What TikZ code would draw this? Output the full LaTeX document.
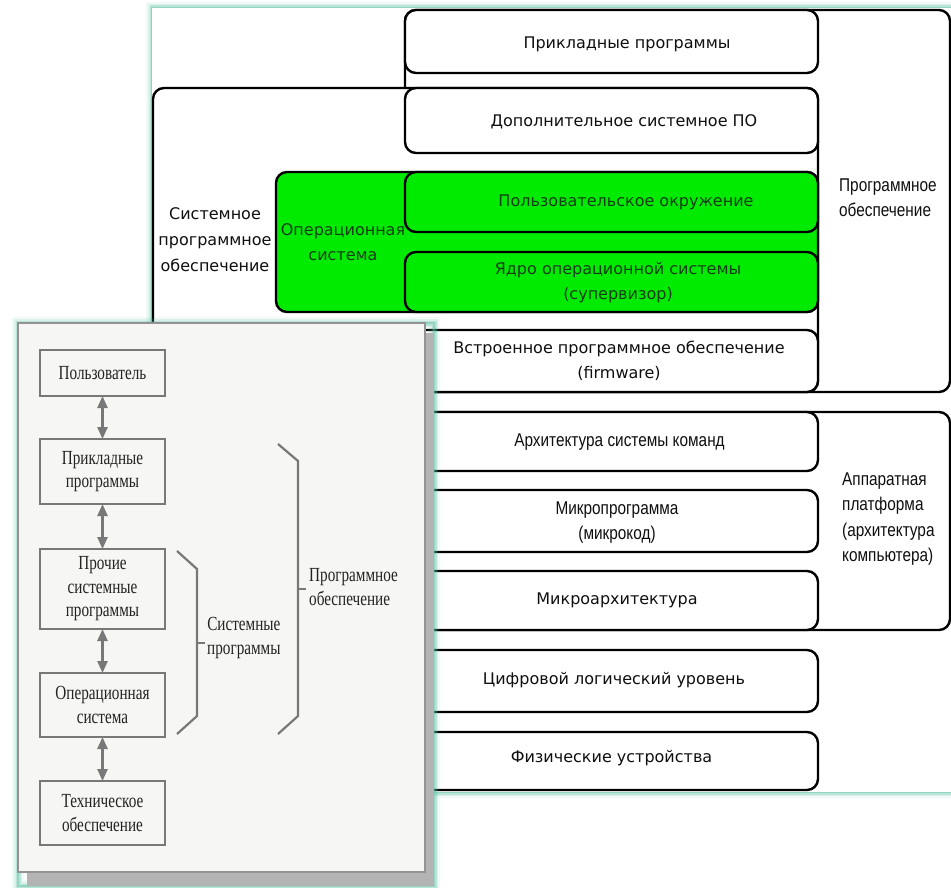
\documentclass[tikz,border=0pt]{standalone}
\usepackage{fontspec}
\setmainfont{DejaVu Sans}
\newfontfamily\condf[FakeStretch=0.83]{Liberation Sans}
\newfontfamily\serf[FakeStretch=0.76]{Liberation Serif}
\usetikzlibrary{arrows.meta}
\definecolor{osgreen}{RGB}{0,235,0}
\definecolor{txt}{RGB}{15,15,15}
\definecolor{gtxt}{RGB}{20,60,20}
\definecolor{glowc}{RGB}{90,190,160}
\definecolor{insetbg}{RGB}{246,247,244}
\definecolor{igray}{RGB}{120,120,120}
\definecolor{itxt}{RGB}{35,35,35}
\definecolor{shad}{RGB}{180,180,180}
\tikzset{
  lay/.style={draw=black, line width=2.4pt, rounded corners=11pt, fill=white,
    inner sep=0pt, outer sep=0pt, minimum width=413pt},
  grn/.style={lay, fill=osgreen},
  lbl/.style={font=\fontsize{16}{25}\selectfont, text=txt, align=center, inner sep=0pt},
  clbl/.style={font=\condf\fontsize{18.5}{25.5}\selectfont, text=txt, align=center, inner sep=0pt},
  ibox/.style={draw=igray, line width=2.2pt, fill=insetbg, minimum width=125pt,
    inner sep=0pt, outer sep=0pt, font=\serf\fontsize{20}{23.5}\selectfont,
    text=itxt, align=center},
  itext/.style={font=\serf\fontsize{20}{23.5}\selectfont, text=itxt, inner sep=0pt},
  iarrow/.style={draw=igray, line width=2.5pt,
    {Triangle[width=10pt,length=12pt]}-{Triangle[width=10pt,length=12pt]}},
  brk/.style={draw=igray, line width=2.2pt},
}
\begin{document}
\begin{tikzpicture}[x=1pt,y=-1pt]
\useasboundingbox (0,0) rectangle (951,888);
% main panel with glow
\foreach \w/\o in {12/0.08, 8/0.15, 5/0.25, 2.5/0.4}
  \draw[glowc, line width=\w pt, opacity=\o] (152,8) rectangle (990,792);
\fill[white] (152,8) rectangle (990,792);
% outer boxes
\node[lay, minimum width=545pt, minimum height=382pt] (po) at (677.5,201) {};
\node[lay, minimum width=665pt, minimum height=304pt] (sys) at (485.5,240) {};
\node[lay, minimum height=63pt] (app) at (611.5,41.5) {};
\node[lay, minimum height=65pt] (add) at (611.5,120.5) {};
\node[grn, minimum width=542pt, minimum height=140pt] (os) at (547,242) {};
\node[grn, minimum height=60pt] (env) at (611.5,202) {};
\node[grn, minimum height=60pt] (kern) at (611.5,282) {};
\node[lay, minimum height=62pt] (fw) at (611.5,361) {};
\node[lay, minimum width=545pt, minimum height=218pt] (hw) at (677.5,521) {};
\node[lay, minimum height=59pt] (isa) at (611.5,441.5) {};
\node[lay, minimum height=62pt] (mp) at (611.5,521) {};
\node[lay, minimum height=59pt] (ma) at (611.5,600.5) {};
\node[lay, minimum height=62pt] (dl) at (611.5,681) {};
\node[lay, minimum height=58pt] (ph) at (611.5,761) {};
% texts
\node[lbl] (tapp) at (627,44) {Прикладные программы};
\node[lbl] (tadd) at (624,122) {Дополнительное системное ПО};
\node[lbl, text=gtxt] (tenv) at (626,202) {Пользовательское окружение};
\node[lbl, text=gtxt] (tkern) at (618,282.5) {Ядро операционной системы\\(супервизор)};
\node[lbl] (tfw) at (619,360.5) {Встроенное программное обеспечение\\(firmware)};
\node[lbl, font=\fontsize{16}{26}\selectfont] (tsys) at (215,239.5) {Системное\\программное\\обеспечение};
\node[lbl, text=gtxt] (tos) at (343,242.5) {Операционная\\система};
\node[clbl, anchor=west, align=left] (tpo) at (839,197.5) {Программное\\обеспечение};
\node[clbl] (tisa) at (619.5,442) {Архитектура системы команд};
\node[clbl] (tmp) at (617,522.5) {Микропрограмма\\(микрокод)};
\node[lbl] (tma) at (617,600) {Микроархитектура};
\node[lbl] (tdl) at (614,680) {Цифровой логический уровень};
\node[lbl] (tph) at (611.5,758) {Физические устройства};
\node[clbl, anchor=west, align=left] (thw) at (842,519) {Аппаратная\\платформа\\(архитектура\\компьютера)};
% inset panel
\foreach \w/\o in {12/0.08, 8/0.15, 5/0.25, 2.5/0.4}
  \draw[glowc, line width=\w pt, opacity=\o] (18,323) rectangle (434,886);
\fill[shad] (27,333) rectangle (434,886);
\fill[insetbg] (18,323) rectangle (425,872);
\draw[igray!80, line width=1.2pt] (18,323) rectangle (425,872);
\node[ibox, minimum height=46pt] (user) at (102.5,373) {Пользователь};
\node[ibox, minimum height=65pt] (apps2) at (102.5,471.5) {Прикладные\\программы};
\node[ibox, minimum height=80pt] (other) at (102.5,589) {Прочие\\системные\\программы};
\node[ibox, minimum height=64pt] (os2) at (102.5,705) {Операционная\\система};
\node[ibox, minimum height=64pt] (hw2) at (102.5,813) {Техническое\\обеспечение};
\draw[iarrow] (user) -- (apps2);
\draw[iarrow] (apps2) -- (other);
\draw[iarrow] (other) -- (os2);
\draw[iarrow] (os2) -- (hw2);
% brackets
\coordinate (sbt) at (205,643);
\coordinate (pbt) at (306,589);
\draw[brk] (177,551) -- (197,569) -- (197,716) -- (177,734);
\draw[brk] (197,643) -- (sbt);
\draw[brk] (278,444) -- (298,461) -- (298,716) -- (278,734);
\draw[brk] (298,589) -- (pbt);
\node[itext, anchor=west, align=center] (tsp) at (207,638) {Системные\\программы};
\node[itext, anchor=west, align=left] (tpo2) at (309,587) {Программное\\обеспечение};
\end{tikzpicture}
\end{document}
